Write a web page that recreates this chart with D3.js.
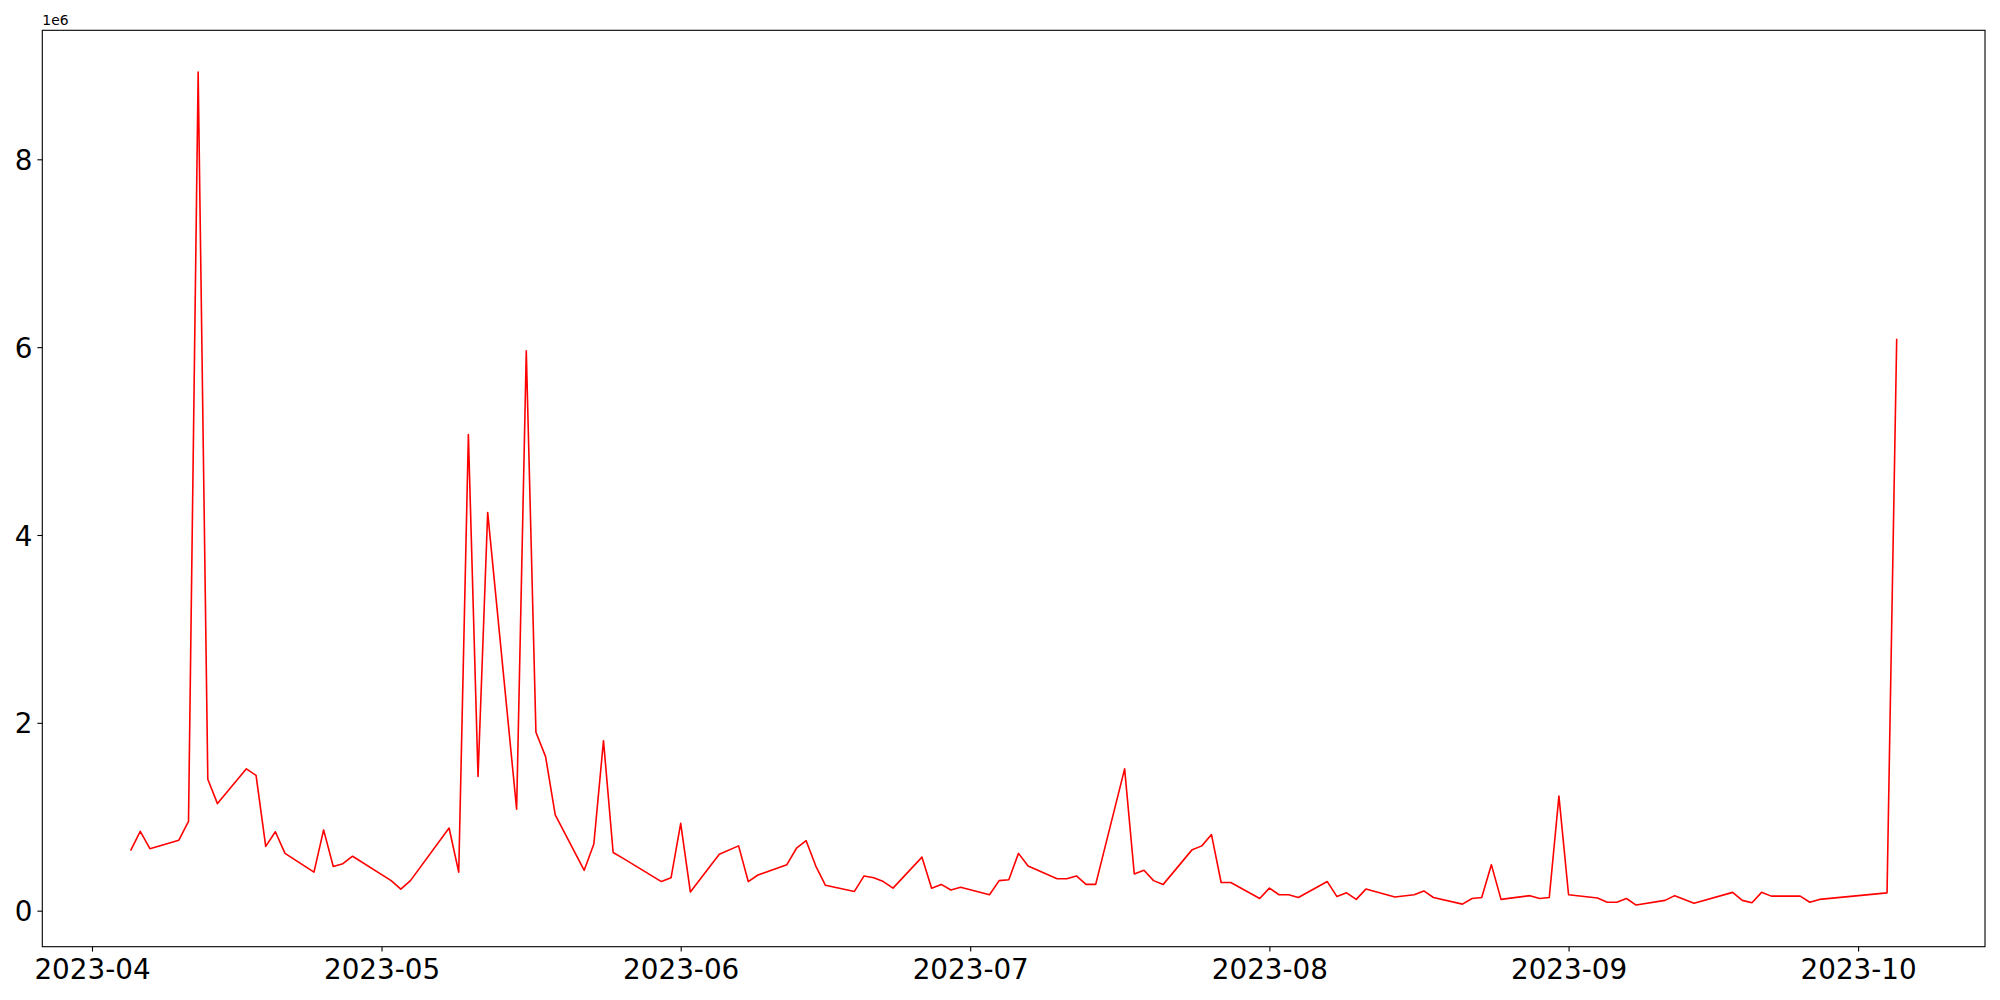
<!DOCTYPE html>
<html>
<head>
<meta charset="utf-8">
<script src="https://cdn.jsdelivr.net/npm/d3@7"></script>
<style>
  html, body { margin: 0; padding: 0; background: #fff; }
  svg { display: block; }
  text { font-family: "DejaVu Sans", sans-serif; fill: #000; }
</style>
</head>
<body>
<svg id="chart" width="2000" height="1000"></svg>
<script>
const dates = ["2023-04-05","2023-04-06","2023-04-07","2023-04-10","2023-04-11","2023-04-12","2023-04-13","2023-04-14","2023-04-17","2023-04-18","2023-04-19","2023-04-20","2023-04-21","2023-04-24","2023-04-25","2023-04-26","2023-04-27","2023-04-28",
"2023-05-02","2023-05-03","2023-05-04","2023-05-08","2023-05-09","2023-05-10","2023-05-11","2023-05-12","2023-05-15","2023-05-16","2023-05-17","2023-05-18","2023-05-19","2023-05-22","2023-05-23","2023-05-24","2023-05-25","2023-05-26","2023-05-30","2023-05-31",
"2023-06-01","2023-06-02","2023-06-05","2023-06-07","2023-06-08","2023-06-09","2023-06-12","2023-06-13","2023-06-14","2023-06-15","2023-06-16","2023-06-19","2023-06-20","2023-06-21","2023-06-22","2023-06-23","2023-06-26","2023-06-27","2023-06-28","2023-06-29","2023-06-30",
"2023-07-03","2023-07-04","2023-07-05","2023-07-06","2023-07-07","2023-07-10","2023-07-11","2023-07-12","2023-07-13","2023-07-14","2023-07-17","2023-07-18","2023-07-19","2023-07-20","2023-07-21","2023-07-24","2023-07-25","2023-07-26","2023-07-27","2023-07-28","2023-07-31",
"2023-08-01","2023-08-02","2023-08-03","2023-08-04","2023-08-07","2023-08-08","2023-08-09","2023-08-10","2023-08-11","2023-08-14","2023-08-16","2023-08-17","2023-08-18","2023-08-21","2023-08-22","2023-08-23","2023-08-24","2023-08-25","2023-08-28","2023-08-29","2023-08-30","2023-08-31",
"2023-09-01","2023-09-04","2023-09-05","2023-09-06","2023-09-07","2023-09-08","2023-09-11","2023-09-12","2023-09-14","2023-09-18","2023-09-19","2023-09-20","2023-09-21","2023-09-22","2023-09-25","2023-09-26","2023-09-27",
"2023-10-04","2023-10-05"];

// values in units of 1e6
const valuesM = [0.64,0.845,0.66,0.75,0.95,8.93,1.40,1.14,1.51,1.44,0.685,0.84,0.61,0.41,0.86,0.47,0.50,0.58,
0.32,0.23,0.32,0.88,0.41,5.07,1.43,4.24,1.08,5.96,1.90,1.64,1.02,0.43,0.71,1.81,0.62,0.56,0.31,0.35,
0.93,0.20,0.60,0.69,0.31,0.38,0.49,0.665,0.745,0.475,0.27,0.205,0.37,0.35,0.31,0.24,0.57,0.24,0.28,0.22,0.25,
0.17,0.32,0.33,0.61,0.475,0.34,0.34,0.37,0.28,0.28,1.51,0.39,0.43,0.32,0.28,0.65,0.69,0.81,0.30,0.30,0.13,
0.24,0.17,0.17,0.14,0.31,0.15,0.19,0.12,0.23,0.145,0.17,0.21,0.14,0.07,0.13,0.14,0.49,0.12,0.16,0.13,0.14,1.22,
0.17,0.135,0.09,0.09,0.13,0.06,0.11,0.16,0.08,0.195,0.11,0.085,0.195,0.155,0.155,0.09,0.12,
0.19,6.09];

const yTickValuesM = [0, 2, 4, 6, 8];
const yTickLabels = ["0", "2", "4", "6", "8"];
const xTickLabelFormat = "%Y-%m";
const offsetLabel = "1e6";

const parse = d3.utcParse("%Y-%m-%d");
const data = dates.map((d, i) => ({ date: parse(d), value: valuesM[i] * 1e6 }));

const svg = d3.select("#chart");
const plot = { left: 42.3, right: 1985, top: 30.3, bottom: 946.7 };

// matplotlib-like 5% margins
const xExt = d3.extent(data, d => +d.date);
const xPad = (xExt[1] - xExt[0]) * 0.05;
const yExt = d3.extent(data, d => d.value);
const yPad = (yExt[1] - yExt[0]) * 0.05;

const x = d3.scaleUtc()
  .domain([new Date(xExt[0] - xPad), new Date(xExt[1] + xPad)])
  .range([plot.left, plot.right]);
const y = d3.scaleLinear()
  .domain([yExt[0] - yPad, yExt[1] + yPad])
  .range([plot.bottom, plot.top]);

// line
const line = d3.line().x(d => x(d.date)).y(d => y(d.value));
svg.append("path")
  .datum(data)
  .attr("d", line)
  .attr("fill", "none")
  .attr("stroke", "#ff0000")
  .attr("stroke-width", 1.6)
  .attr("stroke-linejoin", "round");

// x axis
const xAxis = d3.axisBottom(x)
  .ticks(d3.utcMonth.every(1))
  .tickFormat(d3.utcFormat(xTickLabelFormat))
  .tickSizeInner(4.9)
  .tickSizeOuter(0)
  .tickPadding(4.9);
const gx = svg.append("g")
  .attr("transform", `translate(0,${plot.bottom})`)
  .call(xAxis);
gx.select(".domain").remove();
gx.selectAll(".tick line").attr("stroke", "#000").attr("stroke-width", 1.1);
gx.selectAll(".tick text").style("font-size", "27.8px").attr("font-family", "DejaVu Sans").attr("dy", "0.8em");

// y axis
const yAxis = d3.axisLeft(y)
  .tickValues(yTickValuesM.map(v => v * 1e6))
  .tickFormat((d, i) => yTickLabels[i])
  .tickSizeInner(4.9)
  .tickSizeOuter(0)
  .tickPadding(4.9);
const gy = svg.append("g")
  .attr("transform", `translate(${plot.left},0)`)
  .call(yAxis);
gy.select(".domain").remove();
gy.selectAll(".tick line").attr("stroke", "#000").attr("stroke-width", 1.1);
gy.selectAll(".tick text").style("font-size", "27.8px").attr("font-family", "DejaVu Sans").attr("dy", "0.36em");

// frame (spines)
svg.append("rect")
  .attr("x", plot.left).attr("y", plot.top)
  .attr("width", plot.right - plot.left).attr("height", plot.bottom - plot.top)
  .attr("fill", "none").attr("stroke", "#000").attr("stroke-width", 1.1);

// offset text
svg.append("text")
  .attr("x", plot.left)
  .attr("y", plot.top - 5)
  .style("font-size", "13.9px")
  .text(offsetLabel);
</script>
</body>
</html>
